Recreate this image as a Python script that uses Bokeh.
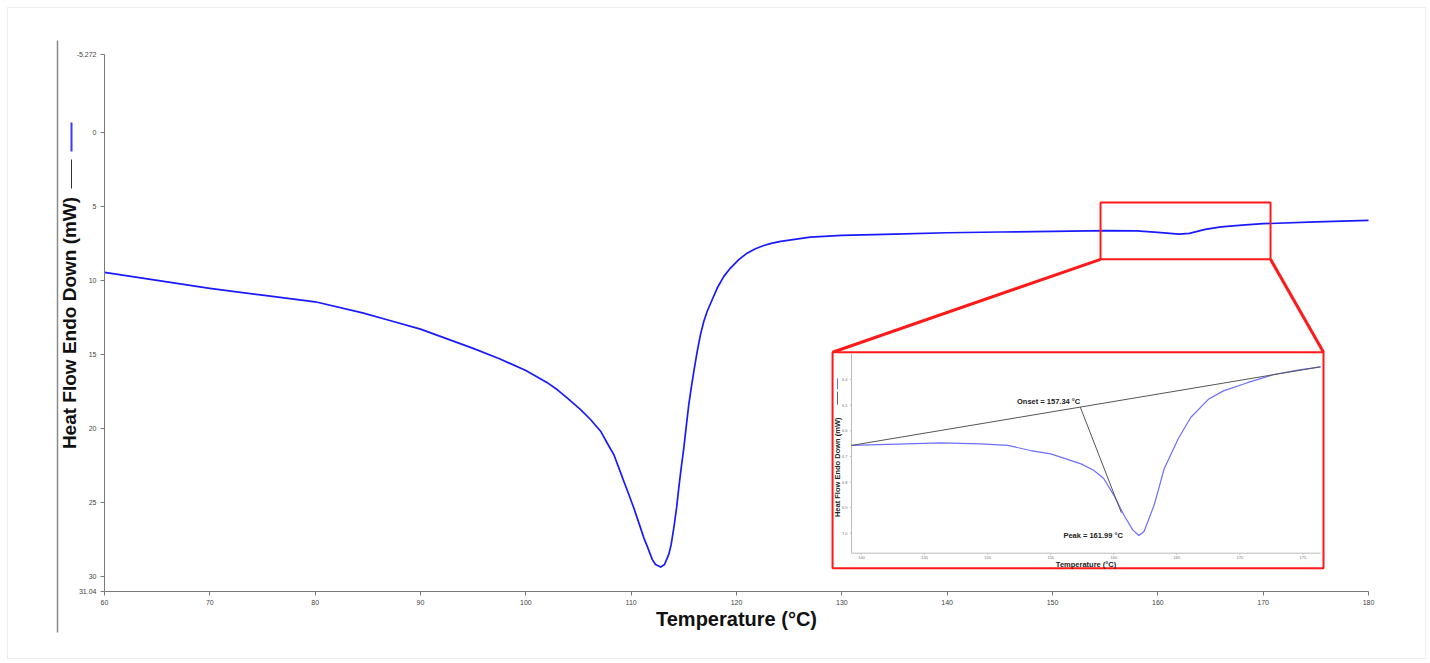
from bokeh.plotting import figure
from bokeh.models import (Range1d, FixedTicker, Arrow, BoxAnnotation)
from bokeh.core.properties import value
from bokeh.embed import file_html
from bokeh.resources import INLINE

# ---------------- data ----------------
temp = [60, 65, 70, 75, 80, 84.5, 87, 90, 95, 97.5, 100, 102, 103, 104, 105.2, 106.14,
        107.1, 107.72, 108.35, 108.83, 109.3, 109.78, 110.25, 110.73, 111.2, 111.52,
        112.0, 112.31, 112.8, 113.17, 113.57, 113.8, 114.05, 114.31, 114.52, 114.75,
        115.0, 115.25, 115.47, 115.7, 115.95, 116.27, 116.58, 116.9, 117.22, 117.69,
        118.17, 118.8, 119.43, 120.22, 121.0, 121.8, 122.6, 123.39, 124.2, 127, 130,
        135, 140, 145, 150, 155, 158, 160, 162, 163, 164.5, 166, 168, 170, 175, 180]
heat_flow = [9.46, 10.0, 10.54, 11.0, 11.45, 12.2, 12.7, 13.3, 14.6, 15.3, 16.1, 16.9,
             17.4, 18.0, 18.74, 19.41, 20.2, 21.0, 21.78, 22.68, 23.58, 24.48, 25.39,
             26.4, 27.41, 27.97, 28.87, 29.21, 29.39, 29.21, 28.53, 27.86, 26.74, 25.39,
             24.03, 22.68, 21.33, 19.75, 18.4, 17.28, 16.15, 14.8, 13.67, 12.77, 12.09,
             11.31, 10.52, 9.73, 9.17, 8.6, 8.16, 7.86, 7.64, 7.48, 7.36, 7.08, 6.96,
             6.87, 6.78, 6.73, 6.69, 6.64, 6.66, 6.76, 6.88, 6.82, 6.55, 6.38, 6.26,
             6.17, 6.05, 5.95]

x_ticks = [60, 70, 80, 90, 100, 110, 120, 130, 140, 150, 160, 170, 180]
y_ticks = [-5.272, 0, 5, 10, 15, 20, 25, 30, 31.04]
y_tick_labels = ["-5.272", "0", "5", "10", "15", "20", "25", "30", "31.04"]
x_min, x_max = 60, 180
y_min, y_max = -5.272, 31.04

# inset (zoom on the second transition)
inset_temp = [139.2, 142.85, 146.3, 149.4, 151.6, 153.4, 155.0, 157.4, 158.4, 159.2,
              160.0, 160.8, 161.5, 161.99, 162.4, 163.2, 164.0, 165.1, 166.1, 167.5,
              168.7, 170.6, 172.7, 174.6, 176.4]
inset_flow = [6.657, 6.652, 6.647, 6.651, 6.657, 6.677, 6.69, 6.729, 6.754, 6.786,
              6.851, 6.929, 6.987, 7.009, 6.993, 6.89, 6.748, 6.632, 6.548, 6.477,
              6.444, 6.412, 6.38, 6.363, 6.35]
baseline_temp = [139.2, 176.4]
baseline_flow = [6.657, 6.350]
onset_temp, onset_flow = 157.34, 6.507
tangent_end_temp, tangent_end_flow = 160.6, 6.92
peak_temp, peak_flow = 161.99, 7.009
inset_x_ticks = [140, 145, 150, 155, 160, 165, 170, 175]
inset_x_labels = ["140", "145", "150", "155", "160", "165", "170", "175"]
inset_y_ticks = [6.4, 6.5, 6.6, 6.7, 6.8, 6.9, 7.0]
inset_y_labels = ["6.4", "6.5", "6.6", "6.7", "6.8", "6.9", "7.0"]
inset_x_range = (139.2, 176.4)
inset_y_range = (7.078, 6.297)

# ---------------- figure ----------------
W, H = 1430, 663
FL, FR, FT, FB = 104, 1368, 54, 591   # where the axes sit, in page pixels
FONT = "Liberation Sans"
# the frame fills the page; the axes are pinned at the data edges
kx = (x_max - x_min) / (FR - FL)
ky = (y_max - y_min) / (FB - FT)
p = figure(width=W, height=H, output_backend="svg", toolbar_location=None,
           x_range=Range1d(x_min - FL * kx, x_max + (W - FR) * kx),
           y_range=Range1d(y_max + (H - FB) * ky, y_min - FT * ky),
           min_border=0)
p.grid.visible = False
p.outline_line_color = None
p.background_fill_color = "white"
p.border_fill_color = "white"

xa, ya = p.xaxis[0], p.yaxis[0]
xa.fixed_location = y_max
ya.fixed_location = x_min
xa.bounds = (x_min, x_max)
ya.bounds = (y_min, y_max)
for ax in (xa, ya):
    ax.axis_line_color = "#7a7a7a"
    ax.major_tick_line_color = "#7a7a7a"
    ax.major_tick_out = 4
    ax.major_tick_in = 0
    ax.minor_tick_line_color = None
    ax.major_label_text_font = FONT
    ax.major_label_text_font_size = "7px"
    ax.major_label_text_color = "#444444"
    ax.major_label_standoff = 4
    ax.axis_label_text_font = FONT
    ax.axis_label_text_font_style = "bold"
    ax.axis_label_text_color = "#111111"

xa.ticker = FixedTicker(ticks=x_ticks)
ya.ticker = FixedTicker(ticks=y_ticks)
ya.major_label_overrides = {t: l for t, l in zip(y_ticks, y_tick_labels)}
xa.axis_label = "Temperature (°C)"
xa.axis_label_text_font_size = "20px"
xa.axis_label_standoff = 0
ya.axis_label = "Heat Flow Endo Down (mW)"
ya.axis_label_text_font_size = "19px"
ya.axis_label_standoff = -6

# main curve
p.line(temp, heat_flow, line_color="#1a1aff", line_width=1.7, line_join="round")


def rule(x0_, y0_, x1_, y1_, color, width):
    # page-pixel line (screen units measured from the frame's bottom-left)
    p.add_layout(Arrow(end=None, x_start=x0_, y_start=H - y0_, x_end=x1_,
                       y_end=H - y1_, start_units="screen", end_units="screen",
                       line_color=color, line_width=width))


# legend marks beside the y title
rule(71, 122, 71, 151, "#3a3aff", 2)
rule(71, 159, 71, 188, "#333333", 1)
# left vertical rule and outer frame
rule(57, 40, 57, 632, "#8a8a8a", 1.5)
p.add_layout(BoxAnnotation(left=7, right=1425, top=H - 7, bottom=H - 658,
                           left_units="screen", right_units="screen",
                           top_units="screen", bottom_units="screen",
                           fill_alpha=0, line_color="#c8c8c8", line_width=1))

# zoom box, connectors, inset box
zoom_box = dict(left=154.56, right=170.70, top=4.73, bottom=8.58)
inset_box = dict(left=129.12, right=175.73, top=14.86, bottom=29.46)
p.quad(**zoom_box, fill_alpha=0, line_color="#ff1a1a", line_width=2)
p.segment(x0=[zoom_box["left"], zoom_box["right"]],
          y0=[zoom_box["bottom"], zoom_box["bottom"]],
          x1=[inset_box["left"], inset_box["right"]],
          y1=[inset_box["top"], inset_box["top"]],
          line_color="#ff1a1a", line_width=3)
p.quad(**inset_box, fill_color="white", line_color="#ff1a1a", line_width=2)

# inset plot via a sub-coordinate mapping
sub = p.subplot(x_source=Range1d(*inset_x_range), y_source=Range1d(*inset_y_range),
                x_target=Range1d(130.92, 175.45), y_target=Range1d(28.45, 14.93))
x0, x1 = inset_x_range
yb, yt = inset_y_range
sub.segment(x0=[x0, x0], y0=[yb, yb], x1=[x1, x0], y1=[yb, yt],
            line_color="#bbbbbb", line_width=1)
sub.segment(x0=inset_x_ticks, y0=[yb] * len(inset_x_ticks), x1=inset_x_ticks,
            y1=[yb + 0.006] * len(inset_x_ticks), line_color="#bbbbbb")
sub.segment(x0=[x0] * len(inset_y_ticks), y0=inset_y_ticks,
            x1=[x0 - 0.12] * len(inset_y_ticks), y1=inset_y_ticks, line_color="#bbbbbb")
sub.text(x=inset_x_ticks, y=[yb] * len(inset_x_ticks), text=inset_x_labels,
         text_font=value(FONT), text_font_size="4px", text_color="#777777",
         text_align="center", text_baseline="top", y_offset=3)
sub.text(x=[x0] * len(inset_y_ticks), y=inset_y_ticks, text=inset_y_labels,
         text_font=value(FONT), text_font_size="4px", text_color="#777777",
         text_align="right", text_baseline="middle", x_offset=-4)

sub.line(inset_temp, inset_flow, line_color="#6e6eff", line_width=1.2,
         line_join="round")
sub.line(baseline_temp, baseline_flow, line_color="#555555", line_width=1)
sub.segment(x0=[onset_temp], y0=[onset_flow], x1=[tangent_end_temp],
            y1=[tangent_end_flow], line_color="#555555", line_width=1)
sub.text(x=[onset_temp], y=[onset_flow], text=["Onset = 157.34 °C"],
         text_font=value(FONT), text_font_style="bold", text_font_size="7.5px",
         text_color="#222222", text_align="right", text_baseline="bottom", y_offset=-1)
sub.text(x=[peak_temp], y=[peak_flow], text=["Peak = 161.99 °C"],
         text_font=value(FONT), text_font_style="bold", text_font_size="7.5px",
         text_color="#222222", text_align="right", text_baseline="middle", x_offset=-16)
sub.text(x=[(x0 + x1) / 2], y=[yb], text=["Temperature (°C)"],
         text_font=value(FONT), text_font_style="bold", text_font_size="7.5px",
         text_color="#222222", text_align="center", text_baseline="middle", y_offset=11)
sub.text(x=[x0], y=[(yb + yt) / 2 + 0.055], text=["Heat Flow Endo Down (mW)"],
         angle=1.5708, text_font=value(FONT), text_font_style="bold",
         text_font_size="7.5px", text_color="#222222", text_align="center",
         text_baseline="middle", x_offset=-14)
legend_x = x0 - 1.11
sub.segment(x0=[legend_x, legend_x], y0=[6.395, 6.447], x1=[legend_x, legend_x],
            y1=[6.438, 6.498], line_color=["#7070ff", "#666666"], line_width=1)

open("out.html", "w").write(file_html(p, INLINE))
